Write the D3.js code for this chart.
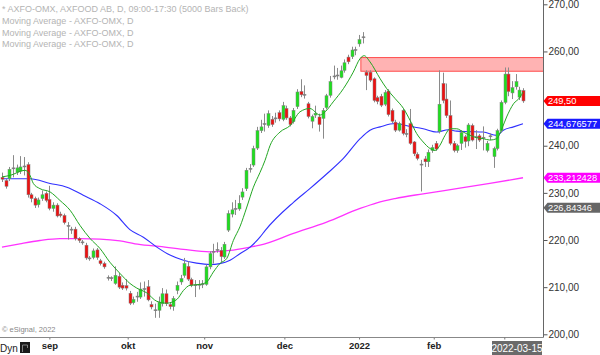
<!DOCTYPE html>
<html><head><meta charset="utf-8">
<script src="https://cdn.jsdelivr.net/npm/d3@7"></script>
<style>
html,body{margin:0;padding:0;background:#fff;}
svg{display:block;font-family:"Liberation Sans",Arial,sans-serif;}
</style></head>
<body>
<svg id="c" width="600" height="355"></svg>
<script>
// ---- data ----
const opens  = [233.3,232.6,233.0,235.2,234.4,234.6,235.6,236.0,229.6,228.8,227.5,228.8,229.9,228.6,226.7,227.4,225.5,225.2,223.0,222.2,222.3,220.3,219.5,218.9,216.1,216.3,217.9,215.6,215.0,212.0,211.9,210.8,212.3,210.4,210.3,208.7,206.7,207.9,207.9,209.5,210.1,206.3,205.1,205.1,206.5,208.6,206.3,205.9,209.3,211.1,212.5,214.4,211.6,210.4,210.5,210.6,210.6,214.3,217.4,217.8,217.8,216.4,222.1,225.5,226.5,226.6,229.1,230.9,235.0,235.9,239.5,243.2,244.6,244.3,245.6,245.7,247.0,245.6,247.9,245.9,245.1,248.3,251.5,250.8,248.9,245.2,246.5,246.1,245.8,248.1,250.7,254.6,254.8,254.5,256.0,258.8,258.9,260.2,261.6,262.9,255.6,255.6,254.2,250.2,250.5,248.8,251.6,247.5,245.0,243.3,247.5,242.5,244.7,240.8,238.2,236.0,237.2,236.6,239.0,240.5,243.0,253.2,249.9,246.4,240.5,239.0,240.5,241.9,241.0,244.3,241.8,242.1,241.7,239.0,242.0,237.7,239.4,243.2,249.2,255.2,251.2,252.5,250.3,251.7];
const highs  = [234.3,233.0,235.5,238.0,236.0,237.8,237.6,236.5,230.0,229.2,229.0,230.5,230.3,231.5,228.0,227.8,226.0,225.6,223.8,222.8,222.8,220.6,220.0,219.4,216.6,218.2,218.3,216.0,215.4,212.5,212.3,214.4,213.0,211.0,211.7,209.2,208.0,209.0,211.0,211.2,211.5,207.0,206.5,208.0,209.8,209.5,206.8,208.1,211.2,212.6,216.2,215.5,212.0,211.5,211.5,211.5,214.8,217.6,219.2,219.5,218.5,219.6,226.3,228.0,228.5,229.5,231.0,235.3,236.1,240.0,244.0,245.5,246.8,247.5,246.3,247.0,247.5,249.3,248.5,246.3,248.0,252.0,254.1,252.8,249.3,246.6,248.5,246.8,248.0,251.0,254.8,257.0,256.5,257.0,258.3,259.3,261.0,261.0,263.5,264.1,256.0,256.0,254.5,250.6,251.0,251.8,252.0,247.9,245.5,245.1,247.9,243.5,247.8,241.0,238.6,237.0,237.8,239.2,240.2,241.0,256.0,255.5,253.2,249.6,241.0,240.4,243.3,242.3,244.8,244.7,243.3,242.5,244.1,241.0,242.6,239.8,243.6,249.6,256.6,256.6,253.7,255.2,252.5,252.2];
const lows   = [232.3,230.9,232.5,233.3,233.8,234.0,233.7,229.0,228.0,226.8,226.9,228.3,228.0,226.3,226.0,224.8,224.8,223.3,220.1,221.3,219.9,219.4,219.0,215.8,215.6,215.9,215.8,214.6,213.9,211.4,211.3,210.5,209.6,209.4,209.3,206.2,206.3,206.9,207.5,208.0,207.0,205.3,203.5,203.5,205.9,206.0,205.3,205.0,208.5,210.5,212.0,211.3,210.0,207.9,209.5,209.8,210.3,213.8,215.0,217.3,215.2,216.0,221.7,224.8,225.3,226.2,228.5,230.4,234.3,235.5,239.1,242.7,243.0,243.8,244.0,244.9,245.2,245.2,245.5,244.1,244.7,247.8,250.3,250.0,245.8,243.7,245.9,243.0,241.5,247.7,250.2,254.1,254.0,254.3,255.5,257.3,258.4,259.2,261.0,261.7,251.8,253.5,249.2,248.8,248.2,248.4,246.2,244.8,242.9,243.0,242.2,241.8,240.2,237.8,236.9,230.3,235.5,235.5,238.5,238.9,242.6,249.0,245.9,240.1,238.6,238.5,239.1,239.6,239.9,240.9,239.3,240.8,239.0,238.6,241.2,235.3,239.0,242.8,248.8,250.5,249.9,251.9,249.7,249.1];
const closes = [232.9,231.4,235.0,235.1,235.3,235.5,235.5,229.6,228.8,227.4,228.5,229.6,228.4,226.7,227.4,225.1,225.2,223.7,222.9,222.0,220.3,219.9,219.4,216.2,216.0,217.7,216.3,215.0,214.3,211.9,211.8,212.5,210.0,209.8,209.8,206.6,207.4,208.0,209.6,209.6,207.3,205.8,205.0,206.8,208.6,206.5,205.9,207.6,210.4,211.8,215.0,211.7,210.4,210.3,210.4,210.6,214.3,217.1,217.5,217.9,216.5,219.1,225.6,226.4,226.6,227.8,230.2,234.8,235.1,239.4,243.2,244.0,244.5,246.8,244.5,245.8,245.7,248.5,245.9,244.5,247.5,251.4,250.8,250.7,246.2,246.2,246.9,244.5,247.5,250.6,253.6,254.7,254.9,255.9,257.6,257.8,260.3,260.3,262.5,263.0,254.9,253.9,249.6,249.4,248.6,251.3,246.6,245.2,243.3,244.7,242.6,242.4,240.5,238.3,237.3,235.9,236.6,238.6,239.6,239.3,248.8,249.6,246.4,240.5,239.0,240.0,242.8,240.9,244.4,241.2,241.7,241.2,241.6,240.5,241.9,239.4,243.2,249.2,255.2,251.5,252.3,253.6,251.8,249.5];

// moving averages as [bar index, value]
const maFast = [[0,233.4],[2.2,233.7],[6.3,234.8],[7.7,233.7],[8.6,232.0],[10.4,230.9],[13.2,230.2],[15.9,228.4],[18.7,226.3],[21.4,223.1],[24.2,220.3],[26.9,218.2],[29.6,215.3],[32.4,212.9],[35.1,210.8],[37.0,209.8],[39.7,208.8],[42.5,207.0],[45.2,206.6],[48.0,207.4],[49.8,209.3],[51.6,210.4],[54.4,210.6],[56.2,211.1],[58.0,213.2],[59.8,215.0],[61.7,216.1],[63.5,219.9],[65.3,222.8],[67.2,227.0],[69.0,231.2],[70.8,234.3],[72.2,236.9],[73.6,240.1],[76.3,242.9],[79.1,244.3],[81.8,247.2],[84.5,247.9],[87.3,246.5],[88.7,247.2],[90.9,249.3],[93.7,252.1],[96.4,255.6],[98.3,258.5],[99.4,259.1],[101.0,257.8],[103.8,254.2],[105.6,252.1],[107.9,250.0],[110.2,247.9],[112.0,245.4],[113.8,242.6],[115.6,240.8],[117.5,239.4],[118.9,239.0],[120.2,240.1],[121.6,242.2],[123.0,243.6],[124.8,243.6],[126.6,242.9],[128.5,242.2],[130.3,241.7],[132.1,241.5],[133.9,241.2],[135.8,241.5],[137.2,243.6],[138.5,246.1],[140.4,248.9],[142.2,250.3],[143,251.4]];
const maMid = [[0,233.0],[7.7,233.0],[13.2,232.0],[17.8,231.2],[22.3,229.5],[26.9,227.7],[31.5,225.2],[35.1,222.2],[38.8,220.6],[42.5,218.5],[46.1,216.8],[49.8,215.7],[53.4,215.1],[57.1,214.8],[59.8,215.0],[62.6,215.7],[65.3,217.1],[68.1,218.5],[70.8,220.6],[72.2,222.0],[80.0,228.0],[84.5,230.9],[89.1,234.0],[93.7,237.3],[98.3,241.5],[101.0,243.3],[103.8,244.0],[107.9,244.7],[112.0,244.1],[115.6,243.6],[119.3,242.9],[122.5,243.4],[124.8,243.1],[128.5,243.0],[132.1,242.9],[135.8,242.2],[137.6,243.3],[140.4,244.0],[143,244.68]];
const maSlow = [[0,218.5],[4.9,219.2],[10.4,219.9],[15.9,220.3],[21.4,220.3],[26.9,220.2],[32.4,219.8],[36.5,219.2],[42.5,218.7],[49.8,218.0],[57.1,217.5],[62.6,217.8],[68.1,218.5],[70.8,218.9],[80.0,221.4],[89.1,223.8],[98.3,226.7],[102.9,227.9],[107.9,228.8],[115.6,229.8],[124.8,230.9],[133.9,232.0],[143,233.21]];

const yTicks = [200,210,220,230,240,260,270];   // 250,00 sits under the last-price tag
const monthIdx = [13,34.5,55.5,77.5,98,118.5];
const monthLabels = ["sep","okt","nov","dec","2022","feb"];
const zone = {start:98.5, low:255.8, high:258.7};
const priceTags = [
  {v:249.50, txt:"249,50", col:"#ff0000"},
  {v:244.676577, txt:"244,676577", col:"#1a1aff"},
  {v:233.212428, txt:"233,212428", col:"#ff00ff"},
  {v:226.84346, txt:"226,84346", col:"#666666"}
];
const legendLines = ["* AXFO-OMX, AXFOOD AB, D, 09:00-17:30 (5000 Bars Back)","Moving Average - AXFO-OMX, D","Moving Average - AXFO-OMX, D","Moving Average - AXFO-OMX, D"];
const cursorDate = {idx:138, txt:"2022-03-15"};

// ---- drawing ----
const svg = d3.select("#c");
const axisX = 543.5, axisY = 337.5;
const x = d3.scaleLinear().domain([0,143]).range([2,523]);
const y = d3.scaleLinear().domain([200,270]).range([334.3,4.3]);

// zone
svg.append("rect")
  .attr("x", x(zone.start)).attr("y", y(zone.high))
  .attr("width", axisX - x(zone.start)).attr("height", y(zone.low)-y(zone.high))
  .attr("fill","#ffb3b3").attr("stroke","#ff4d4d").attr("stroke-width",1);

// legend
svg.append("g").selectAll("text").data(legendLines).join("text")
  .attr("x",2).attr("y",(d,i)=>12+i*11.8)
  .attr("font-size","9px").attr("fill","#b4b4b4").text(d=>d);

// MAs
const line = d3.line().x(d=>x(d[0])).y(d=>y(d[1])).curve(d3.curveMonotoneX);
svg.append("path").attr("d",line(maSlow)).attr("fill","none").attr("stroke","#ff33ff").attr("stroke-width",1.3);
svg.append("path").attr("d",line(maMid)).attr("fill","none").attr("stroke","#3030ff").attr("stroke-width",1.1);

// candles
const idx = d3.range(closes.length);
const cg = svg.append("g");
idx.forEach(i=>{
  const cx = Math.round(x(i));
  const o=opens[i], c=closes[i], h=highs[i], l=lows[i];
  cg.append("line").attr("x1",cx+0.5).attr("x2",cx+0.5)
    .attr("y1",y(h)).attr("y2",y(l)).attr("stroke","#8a8a8a").attr("stroke-width",1);
  const top = y(Math.max(o,c)), bot = y(Math.min(o,c));
  const doji = Math.abs(o-c) < 0.3;
  cg.append("rect").attr("x",cx-1).attr("width",3)
    .attr("y",doji? top-0.5 : top).attr("height",Math.max(1,bot-top))
    .attr("fill", doji? "#7a7a7a" : (c>o? "#1ee01e" : "#ee1111"))
    .attr("stroke","#808080").attr("stroke-width",0.5);
});

svg.append("path").attr("d",line(maFast)).attr("fill","none").attr("stroke","#22a622").attr("stroke-width",1);

// right axis
const ra = svg.append("g").attr("transform",`translate(${axisX},0)`)
  .call(d3.axisRight(y).tickValues(yTicks).tickSize(4).tickPadding(1)
    .tickFormat(d=>d3.format(".2f")(d).replace(".",",")));
ra.select(".domain").remove();
ra.selectAll("line").attr("stroke","#555");
ra.selectAll("text").attr("font-size","10px").attr("fill","#333").attr("font-family","Liberation Sans, Arial, sans-serif");
svg.append("line").attr("x1",axisX).attr("x2",axisX).attr("y1",0).attr("y2",axisY).attr("stroke","#666");

// bottom axis
const ba = svg.append("g").attr("transform",`translate(0,${axisY})`)
  .call(d3.axisBottom(x).tickValues(monthIdx).tickSize(2).tickPadding(3)
    .tickFormat((d,i)=>monthLabels[i]));
ba.select(".domain").remove();
ba.selectAll("line").attr("stroke","#777");
ba.selectAll("text").attr("font-size","9.5px").attr("font-weight","bold").attr("fill","#222").attr("font-family","Liberation Sans, Arial, sans-serif");
svg.append("line").attr("x1",0).attr("x2",axisX).attr("y1",axisY).attr("y2",axisY).attr("stroke","#888");

// price tags
priceTags.forEach(t=>{
  const yc = y(t.v);
  svg.append("path").attr("d",`M${axisX},${yc} L${axisX+4},${yc-5} L600,${yc-5} L600,${yc+5} L${axisX+4},${yc+5} Z`)
    .attr("fill",t.col);
  svg.append("text").attr("x",axisX+4.5).attr("y",yc+3.5).attr("font-size","9.3px").attr("fill","#fff").text(t.txt);
});

// cursor date
svg.append("rect").attr("x",492).attr("y",341).attr("width",50).attr("height",14).attr("fill","#6a6a6a");
svg.append("text").attr("x",517).attr("y",352).attr("text-anchor","middle").attr("font-size","10px").attr("fill","#fff").text(cursorDate.txt);
svg.append("line").attr("x1",x(cursorDate.idx)).attr("x2",x(cursorDate.idx)).attr("y1",axisY).attr("y2",axisY+2).attr("stroke","#777");

// footer
svg.append("text").attr("x",2).attr("y",331.5).attr("font-size","7.5px").attr("fill","#888").text("© eSignal, 2022");
svg.append("text").attr("x",0).attr("y",351.5).attr("font-size","10px").attr("fill","#222").text("Dyn");
svg.append("rect").attr("x",20).attr("y",342).attr("width",10).attr("height",11).attr("fill","#1a1a1a");
svg.append("path").attr("d","M22.5,352 L22.5,345 L27.5,345 L27.5,348").attr("fill","none").attr("stroke","#999").attr("stroke-width",0.8);
</script>
</body></html>
